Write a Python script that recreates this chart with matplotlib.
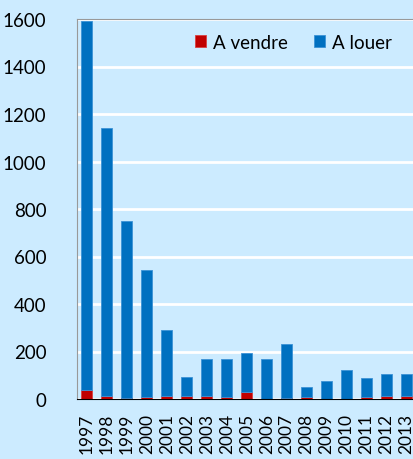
import numpy as np
import matplotlib.pyplot as plt

years = [str(y) for y in range(1997, 2014)]
total = [1593, 1141, 749, 543, 291, 94, 167, 167, 194, 167, 232, 49, 74, 121, 87, 104, 107]
a_vendre = [39, 11, 3, 8, 11, 14, 14, 7, 29, 0, 4, 10, 0, 0, 8, 11, 11]
a_louer = [t - v for t, v in zip(total, a_vendre)]

bg = "#CCEBFF"
red = "#C00000"
blue = "#0070C0"

plt.rcParams['font.family'] = ['Lato', 'DejaVu Sans']

fig = plt.figure(figsize=(4.14, 4.6), dpi=100, facecolor=bg)
ax = fig.add_axes([77 / 414, 60 / 460, 339.5 / 414, 380 / 460])
ax.set_facecolor(bg)

x = np.arange(len(years))
ax.bar(x, a_vendre, width=0.55, color=red, edgecolor="#D94040", linewidth=0.6,
       label="A vendre", zorder=3)
ax.bar(x, a_louer, width=0.55, bottom=a_vendre, color=blue, edgecolor="#3C92D6",
       linewidth=0.6, label="A louer", zorder=3)

ax.set_xlim(-0.5, len(years) - 0.5)
ax.set_ylim(0, 1600)
ax.set_yticks(range(0, 1601, 200))
ax.set_xticks(x)
ax.set_xticklabels(years, rotation=90, fontsize=12.5)
ax.tick_params(axis='y', labelsize=13.5, length=0, pad=22)
ax.tick_params(axis='x', length=0, pad=10)
ax.grid(axis='y', color='white', linewidth=2, zorder=0)

ax.spines['right'].set_visible(False)
ax.spines['top'].set_color('#999999')
ax.spines['left'].set_color('#999999')
ax.spines['bottom'].set_color('black')
ax.spines['bottom'].set_zorder(4)

ax.legend(ncol=2, loc='center left', bbox_to_anchor=(0.347, 0.939), frameon=False,
          fontsize=13.5, handlelength=0.6, handleheight=0.6, handletextpad=0.35,
          columnspacing=1.4, borderpad=0, borderaxespad=0)

fig.savefig("out.png", dpi=100, facecolor=bg)
